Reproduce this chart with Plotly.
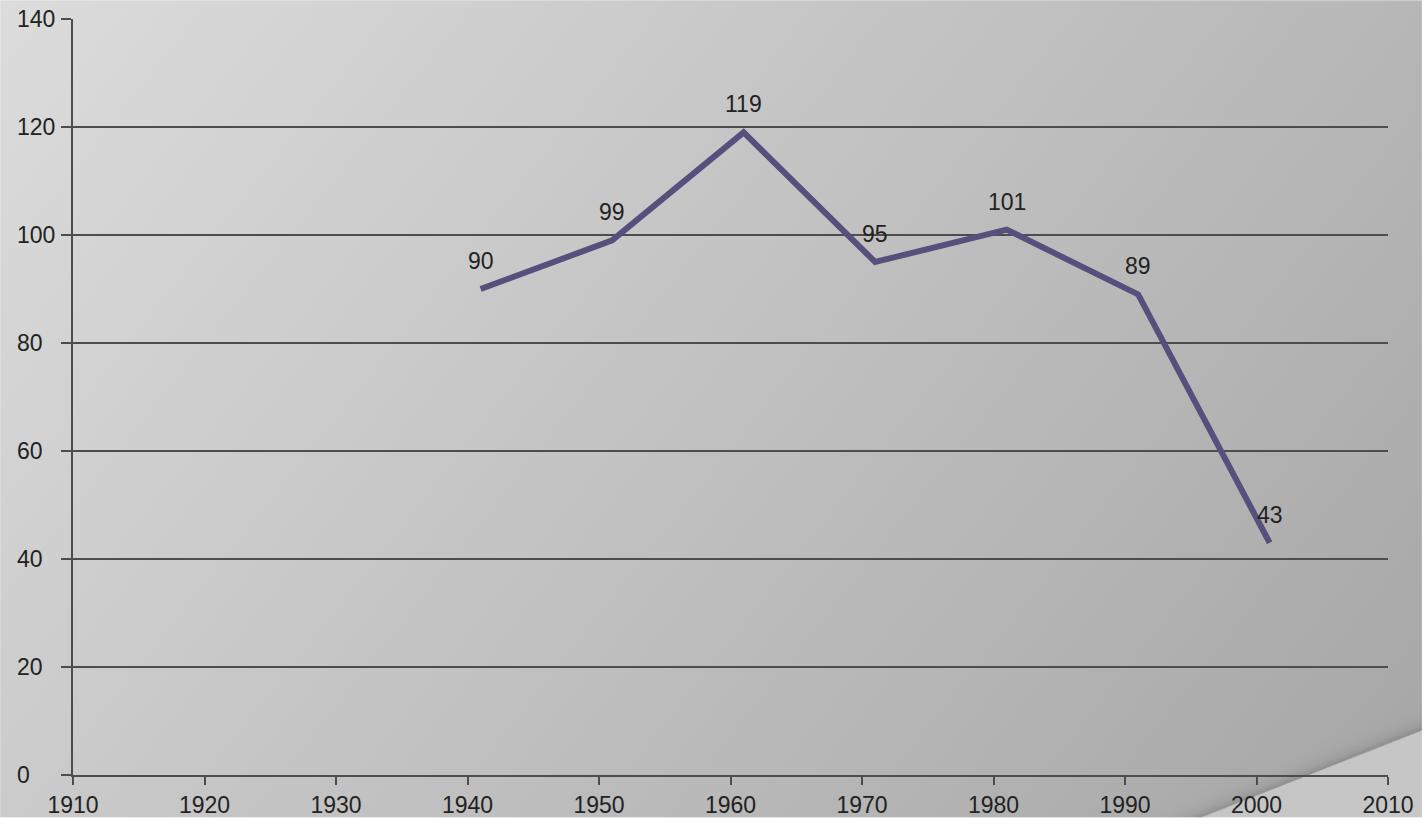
import base64
import struct
import zlib

import numpy as np
import plotly.graph_objects as go

# ---------------- data ----------------
years = [1941, 1951, 1961, 1971, 1981, 1991, 2001]
values = [90, 99, 119, 95, 101, 89, 43]
x_ticks = [1910, 1920, 1930, 1940, 1950, 1960, 1970, 1980, 1990, 2000, 2010]
y_ticks = [0, 20, 40, 60, 80, 100, 120, 140]

W, H = 1426, 830
LINE_COLOR = "#56507c"
GRID_COLOR = "#4d4d4d"
TEXT_COLOR = "#222222"
FONT = "Liberation Sans, Arial, sans-serif"
FS = 23


# ---------------- background (gradient + page curl) ----------------
def make_background():
    yy, xx = np.mgrid[0:H, 0:W].astype(float)
    g = 220 - 0.0262 * xx - 0.0205 * yy
    # page curl edge
    x0, y0, x1, y1 = 1203.0, 830.0, 1426.0, 741.0
    dx, dy = x1 - x0, y1 - y0
    L = np.hypot(dx, dy)
    d = -((xx - x0) * dy - (yy - y0) * dx) / L  # >0 on curl side
    shadow = np.where(d < 0, 30 * np.exp(d / 6.0), 0)
    g = g - shadow
    curl = 198 + 0.0 * xx
    a = np.clip(d + 0.5, 0, 1)
    g = g * (1 - a) + curl * a
    img = np.clip(np.round(g), 0, 255).astype(np.uint8)
    raw = b"".join(b"\x00" + img[r].tobytes() for r in range(H))

    def chunk(tag, data):
        c = struct.pack(">I", len(data)) + tag + data
        return c + struct.pack(">I", zlib.crc32(tag + data) & 0xFFFFFFFF)

    png = b"\x89PNG\r\n\x1a\n"
    png += chunk(b"IHDR", struct.pack(">IIBBBBB", W, H, 8, 0, 0, 0, 0))
    png += chunk(b"IDAT", zlib.compress(raw, 9))
    png += chunk(b"IEND", b"")
    return "data:image/png;base64," + base64.b64encode(png).decode()


fig = go.Figure()
fig.add_trace(
    go.Scatter(
        x=years,
        y=values,
        mode="lines",
        line=dict(color=LINE_COLOR, width=6),
        hoverinfo="x+y",
        showlegend=False,
    )
)

annotations = []
for x, v in zip(years, values):
    annotations.append(
        dict(
            x=x, y=v, xref="x", yref="y", text=str(v), showarrow=False,
            yshift=28, font=dict(family=FONT, size=FS, color=TEXT_COLOR),
        )
    )
for v in y_ticks:
    annotations.append(
        dict(
            x=-58 / 1319, y=v, xref="paper", yref="y", text=str(v),
            showarrow=False, xanchor="left", yanchor="middle",
            font=dict(family=FONT, size=FS, color=TEXT_COLOR),
        )
    )

fig.update_layout(
    width=W,
    height=H,
    margin=dict(l=73, r=34, t=19, b=43),
    paper_bgcolor="rgba(0,0,0,0)",
    plot_bgcolor="rgba(0,0,0,0)",
    font=dict(family=FONT, size=FS, color=TEXT_COLOR),
    images=[
        dict(
            source=make_background(), xref="paper", yref="paper",
            x=-73 / 1319, y=1 + 19 / 768, sizex=W / 1319, sizey=H / 768,
            xanchor="left", yanchor="top", sizing="stretch", layer="below",
        )
    ],
    annotations=annotations,
    xaxis=dict(
        range=[1910, 2010],
        tickvals=x_ticks,
        ticktext=[str(t) for t in x_ticks],
        ticks="outside",
        ticklen=8,
        tickwidth=2,
        tickcolor=GRID_COLOR,
        showline=True,
        linecolor=GRID_COLOR,
        linewidth=2,
        showgrid=False,
        zeroline=False,
        tickfont=dict(family=FONT, size=FS, color=TEXT_COLOR),
    ),
    yaxis=dict(
        range=[0, 140],
        tickvals=y_ticks,
        showticklabels=False,
        ticks="outside",
        ticklen=10,
        tickwidth=2,
        tickcolor=GRID_COLOR,
        showline=True,
        linecolor=GRID_COLOR,
        linewidth=2,
        showgrid=True,
        gridcolor=GRID_COLOR,
        gridwidth=2,
        zeroline=False,
    ),
)

fig.write_html(
    "out.html",
    include_plotlyjs=True,
    config={"displayModeBar": False},
    post_script="document.body.style.margin='0';document.body.style.overflow='hidden';",
)
